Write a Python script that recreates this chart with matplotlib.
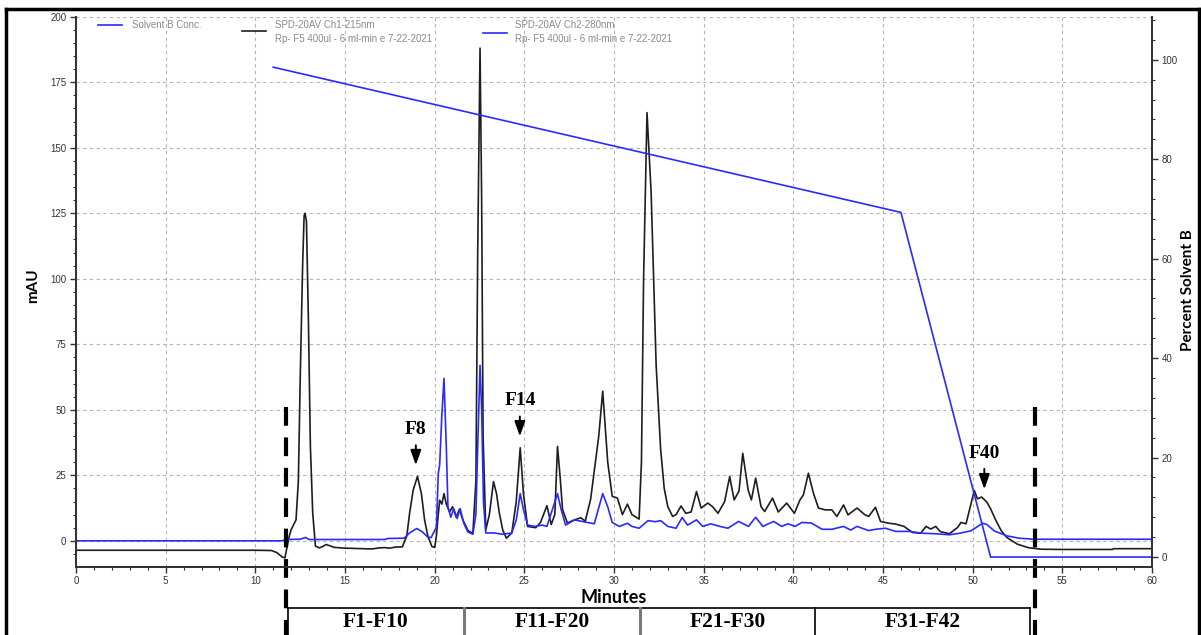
import matplotlib
matplotlib.use("Agg")
import matplotlib.pyplot as plt
from matplotlib.lines import Line2D
from matplotlib.ticker import MultipleLocator

# SPD-20AV Ch1-215nm (black trace), minutes / mAU
t_215 = [0, 5, 10, 10.9, 11.2, 11.5, 11.65, 11.75, 11.9, 12.0, 12.27, 12.4, 12.5, 12.64, 12.72,
         12.77, 12.85, 12.96, 13.07, 13.2, 13.35, 13.57, 13.8, 13.95, 14.2, 14.4, 15.0, 15.5,
         16.0, 16.5, 16.9, 17.2, 17.5, 17.8, 18.2, 18.45, 18.6, 18.8, 19.04, 19.26, 19.44,
         19.63, 19.85, 20.0, 20.1, 20.2, 20.28, 20.4, 20.52, 20.65, 20.83, 21.0, 21.2, 21.38,
         21.57, 21.85, 22.13, 22.3, 22.4, 22.53, 22.62, 22.7, 22.85, 23.05, 23.28, 23.45, 23.6,
         23.8, 24.0, 24.3, 24.55, 24.77, 24.95, 25.18, 25.64, 25.9, 26.26, 26.5, 26.7, 26.85,
         27.0, 27.13, 27.4, 27.8, 28.15, 28.4, 28.7, 28.9, 29.15, 29.37, 29.55, 29.65, 29.9,
         30.19, 30.47, 30.75, 31.0, 31.4, 31.53, 31.65, 31.84, 32.07, 32.35, 32.6, 32.8, 33.0,
         33.27, 33.46, 33.74, 34.0, 34.3, 34.6, 34.86, 35.23, 35.5, 35.8, 36.17, 36.45, 36.7,
         36.97, 37.18, 37.48, 37.66, 37.9, 38.2, 38.4, 38.84, 39.16, 39.63, 40.06, 40.37, 40.56,
         40.84, 41.12, 41.4, 41.78, 42.15, 42.43, 42.8, 43.05, 43.55, 44.0, 44.2, 44.58, 44.86,
         45.33, 45.7, 46.17, 46.64, 47.1, 47.4, 47.66, 47.94, 48.2, 48.7, 49.16, 49.35, 49.63,
         49.9, 50.09, 50.27, 50.5, 50.8, 51.0, 51.3, 51.6, 51.9, 52.5, 53.1, 53.8, 55.0, 57.8,
         57.85, 60]
mau_215 = [-3.6, -3.6, -3.6, -3.7, -4.5, -6.2, -6.5, -3, 2, 4.3, 8, 23, 61, 106, 124,
           125, 122, 84, 36, 10.6, -2, -2.7, -2.0, -1.4, -2.0, -2.5, -2.8, -2.9,
           -3.0, -3.1, -2.7, -2.6, -2.8, -2.4, -2.3, 2, 10.4, 19.3, 24.6, 18, 7.9,
           1.5, -2.2, -2.5, 2, 10, 15.5, 14, 18, 14, 11, 13, 9, 12,
           8, 4, 2.8, 23, 110, 188, 130, 40, 4.2, 10, 22.6, 18, 10.8,
           4, 1, 3, 15, 35.5, 18, 5.5, 5, 7, 13.4, 6.2, 10, 36,
           24, 12, 6.8, 8, 8.8, 7.5, 16, 26.6, 40, 57.1, 40, 30, 17,
           16.3, 10, 14, 10, 8.3, 30, 100, 163.4, 133, 67, 35, 20, 13,
           9.3, 10, 13.3, 10.5, 11, 18.8, 12.5, 14.4, 13, 10.5, 15, 24.5, 15.6,
           19, 33.4, 19.4, 15.6, 23.9, 13, 11.2, 16.3, 11, 14.4, 10.5, 15.6, 17.5,
           25.8, 18.2, 12.5, 11.8, 11.8, 9.3, 13.7, 9.9, 12.5, 9.9, 9.3, 12.8, 7.4,
           6.7, 6.4, 5.5, 3.2, 2.9, 5.5, 4.5, 5.5, 3.5, 2.7, 5.1, 7, 6.5,
           14, 19.2, 16, 16.7, 14.7, 12.2, 7.7, 3.8, 1.3, -1.3, -2.6, -3.2, -3.3, -3.3,
           -3.0, -3.0]

# SPD-20AV Ch2-280nm (blue trace)
t_280 = [0, 11.5, 11.7, 12.5, 12.8, 13.0, 17.2, 17.4, 18.3, 18.6, 19.0, 19.3, 19.6, 19.8,
         20.1, 20.2, 20.28, 20.4, 20.52, 20.65, 20.74, 20.9, 21.06, 21.25, 21.42, 21.63,
         21.85, 22.13, 22.3, 22.4, 22.53, 22.62, 22.72, 22.85, 23.3, 23.8, 24.3, 24.55,
         24.77, 24.95, 25.18, 25.6, 26.0, 26.26, 26.85, 27.05, 27.3, 27.8, 28.15, 28.9,
         29.37, 29.65, 29.9, 30.3, 30.75, 31.0, 31.4, 31.9, 32.3, 32.6, 33.0, 33.46, 33.8,
         34.1, 34.6, 34.95, 35.4, 35.9, 36.35, 36.95, 37.5, 37.9, 38.3, 38.9, 39.35, 39.7,
         40.1, 40.47, 41.0, 41.6, 42.15, 42.8, 43.2, 43.55, 44.2, 44.58, 45.14, 45.7, 46.45,
         47.2, 47.94, 48.7, 49.2, 49.9, 50.56, 50.8, 51.2, 51.9, 52.6, 53.4, 60]
mau_280 = [0, 0, 0.5, 0.6, 1.3, 0.5, 0.5, 0.9, 1.0, 3, 4.7, 3.5, 1.5, 1.2,
           5.3, 25.6, 29, 48, 62, 35.8, 13, 9, 12.3, 8.5, 12.3, 6.6,
           3.4, 2.5, 10, 35.8, 67, 50, 15, 3, 3, 2.5, 3, 8,
           18, 12, 6, 5.5, 6, 5.5, 18, 12, 6, 8, 7.5, 6.5,
           18, 13, 7, 5.5, 6.7, 5.5, 4.8, 7.7, 7.3, 7.7, 5.5, 4.8, 8.9,
           6, 8, 5.5, 6.5, 5.5, 4.8, 7.4, 5.5, 9, 5.5, 7.4, 5.5, 6.5,
           5.5, 7, 6.8, 4.4, 4.4, 5.5, 4.1, 5.5, 3.9, 4.4, 4.8, 3.6, 3.6,
           2.9, 2.7, 2.3, 2.8, 3.8, 6.7, 6.2, 3.8, 1.9, 1.0, 0.6, 0.6]

# Solvent B gradient (percent)
t_grad = [11, 46, 51, 60]
pct_grad = [98.5, 69.3, 0, 0]

# collected fractions
frac_edges = [11.82, 21.64, 31.46, 41.22, 53.2]
frac_labels = ["F1-F10", "F11-F20", "F21-F30", "F31-F42"]
cut_lines = [11.7, 53.5]

# labelled peaks: name, minute, label height, arrow top, arrow tip
peak_names = ["F8", "F14", "F40"]
peak_t = [18.95, 24.75, 50.65]
peak_label_y = [42.3, 53.5, 33.5]
peak_arrow_top = [37.5, 48.5, 28.5]
peak_arrow_tip = [27.8, 38.8, 18.6]

W, H = 1201, 635
BLUE = "#2a2aff"
BLACK = "#1e1e1e"
GRAY_TXT = "#8a8a8a"


def fx(px):
    return px / W


def fy(py):
    return 1 - py / H


fig = plt.figure(figsize=(W / 100, H / 100), dpi=100)
ax = fig.add_axes([fx(76), fy(566.5), (1152 - 76) / W, (566.5 - 16.7) / H])
ax2 = ax.twinx()

ax.plot(t_215, mau_215, color=BLACK, lw=1.2, zorder=3)
ax.plot(t_280, mau_280, color=BLUE, lw=1.2, zorder=4)
ax2.plot(t_grad, pct_grad, color=BLUE, lw=1.2)

ax.set_xlim(0, 60)
ax.set_ylim(-9.8, 200)
ax2.set_ylim(-1.9, 108.65)

ax.xaxis.set_major_locator(MultipleLocator(5))
ax.xaxis.set_minor_locator(MultipleLocator(1))
ax.yaxis.set_major_locator(MultipleLocator(25))
ax.yaxis.set_minor_locator(MultipleLocator(5))
ax2.yaxis.set_major_locator(MultipleLocator(20))
ax2.yaxis.set_minor_locator(MultipleLocator(4))

ax.grid(True, which="major", ls=(0, (3, 3)), color="#b4b4b4", lw=0.8, zorder=0)
ax.set_axisbelow(True)

for a in (ax, ax2):
    a.spines["top"].set_visible(False)
    for s in ("left", "right", "bottom"):
        a.spines[s].set_color("#333333")
        a.spines[s].set_linewidth(1.4)
    a.tick_params(which="major", length=4, width=1, colors="#333333", labelsize=7, pad=3)
    a.tick_params(which="minor", length=2.5, width=0.8, colors="#333333")
    for lab in a.get_xticklabels() + a.get_yticklabels():
        lab.set_family("Liberation Sans")

ax.set_xlabel("Minutes", fontsize=13, fontweight="bold", family="Lato")
ax.xaxis.set_label_coords(0.5, -0.057)
ax.xaxis.label.set_va("center")
ax.set_ylabel("mAU", fontsize=11, fontweight="bold", family="Lato")
ax.yaxis.set_label_coords(-0.040, 0.51)
ax.yaxis.label.set_va("center")
ax2.set_ylabel("Percent Solvent B", fontsize=11, fontweight="bold", family="Lato")
ax2.yaxis.set_label_coords(1.0335, 0.503)
ax2.yaxis.label.set_va("center")

# peak labels with arrows
for name, t, ly, a0, a1 in zip(peak_names, peak_t, peak_label_y, peak_arrow_top, peak_arrow_tip):
    ax.text(t, ly, name, ha="center", va="center", fontsize=14, fontweight="bold",
            family="Liberation Serif", zorder=6)
    ax.annotate("", xy=(t, a1), xytext=(t, a0),
                arrowprops=dict(arrowstyle="-|>,head_length=0.45,head_width=0.16",
                                color="black", lw=1.4, mutation_scale=20),
                zorder=6)

# fraction cut lines and boxes below the axis
for x in cut_lines:
    ax.plot([x, x], [51, -45], color="black", lw=3, ls=(0, (4.5, 2.8)),
            clip_on=False, zorder=7)
box_top = -25.7
ax.plot([frac_edges[0], frac_edges[-1]], [box_top, box_top], color="black", lw=1.2, clip_on=False)
for i, x in enumerate(frac_edges):
    is_mid_gray = i in (1, 2)
    ax.plot([x, x], [box_top, -45], color="#7a7a7a" if is_mid_gray else "black",
            lw=2.2 if is_mid_gray else 1.2, clip_on=False)
for lab, x0, x1 in zip(frac_labels, frac_edges[:-1], frac_edges[1:]):
    ax.text((x0 + x1) / 2, -30.8, lab, ha="center", va="center", fontsize=15.5,
            fontweight="bold", family="Liberation Serif", clip_on=False)

# legend drawn like the instrument software
fig.add_artist(Line2D([fx(98), fx(122)], [fy(25), fy(25)], color=BLUE, lw=1.2))
fig.text(fx(132), fy(25), "Solvent B Conc.", va="center", fontsize=7, color=GRAY_TXT,
         family="Liberation Sans")
fig.add_artist(Line2D([fx(242), fx(266)], [fy(31), fy(31)], color=BLACK, lw=1.2))
fig.text(fx(275), fy(25), "SPD-20AV Ch1-215nm", va="center", fontsize=7, color=GRAY_TXT,
         family="Liberation Sans")
fig.text(fx(275), fy(39.5), "Rp- F5 400ul - 6 ml-min e 7-22-2021", va="center", fontsize=7,
         color=GRAY_TXT, family="Liberation Sans")
fig.add_artist(Line2D([fx(483), fx(507)], [fy(33.3), fy(33.3)], color=BLUE, lw=1.2))
fig.text(fx(515), fy(25), "SPD-20AV Ch2-280nm", va="center", fontsize=7, color=GRAY_TXT,
         family="Liberation Sans")
fig.text(fx(515), fy(39.5), "Rp- F5 400ul - 6 ml-min e 7-22-2021", va="center", fontsize=7,
         color=GRAY_TXT, family="Liberation Sans")

# outer frame
fig.add_artist(Line2D([fx(6), fx(6)], [fy(9), 0], color="black", lw=2.5))
fig.add_artist(Line2D([fx(6), fx(1199)], [fy(9), fy(9)], color="black", lw=2.5))
fig.add_artist(Line2D([fx(1199), fx(1199)], [fy(9), 0], color="black", lw=2.5))

fig.savefig("out.png", dpi=100)
